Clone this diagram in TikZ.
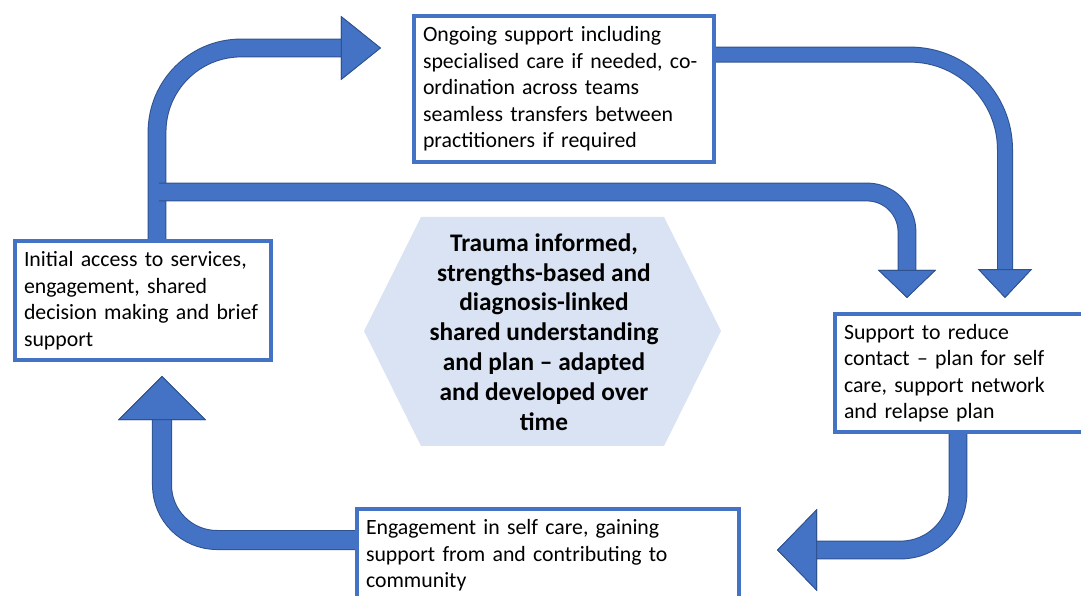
\documentclass[tikz,border=0pt]{standalone}
\usepackage{fontspec}
\setmainfont{Carlito}
\usetikzlibrary{arrows.meta,backgrounds}

\definecolor{flowblue}{HTML}{4472C4}
\definecolor{flowedge}{HTML}{2F528F}
\definecolor{corefill}{HTML}{DAE3F3}

\tikzset{
  stagebox/.style={draw=flowblue, line width=0.1cm, fill=white, anchor=north west,
    inner xsep=0.225cm, inner ysep=0pt, align=left,
    font=\fontsize{15.5}{18.85}\selectfont},
  flow/.style={draw=flowblue, line width=#1,
    preaction={draw=flowedge, line width=#1+0.05cm}},
  head/.style 2 args={-{Triangle[width=#1, length=#2, line width'=0.6pt,
    fill=flowblue, color=flowedge]}}
}

\begin{document}
\begin{tikzpicture}[x=0.025cm, y=-0.025cm]
\useasboundingbox (0,0) rectangle (1081,596);

% the four stages
\node[stagebox, text width=7.05cm, minimum height=3.65cm] (ongoing) at (412,14)
  {Ongoing support including\\specialised care if needed, co-\\ordination across teams\\seamless transfers between\\practitioners if required};
\node[stagebox, text width=5.95cm, minimum height=2.975cm] (init) at (13,239)
  {Initial access to services,\\engagement, shared\\decision making and brief\\support};
\node[stagebox, text width=6.1cm, minimum height=2.95cm] (support) at (833,312)
  {Support to reduce\\contact – plan for self\\care, support network\\and relapse plan};
\node[stagebox, text width=9.1cm, minimum height=2.325cm] (engage) at (355,507)
  {Engagement in self care, gaining\\support from and contributing to\\community};

% centre hexagon
\fill[corefill] (364,331) -- (421,217) -- (664,217) -- (721,331) -- (664,446) -- (421,446) -- cycle;
\node[align=center, font=\fontsize{18}{21.2}\selectfont\bfseries] (core) at (544,332)
  {Trauma informed,\\strengths-based and\\diagnosis-linked\\shared understanding\\and plan – adapted\\and developed over\\time};

% block arrows behind the boxes
\begin{scope}[on background layer]
\coordinate (aTip) at (381,48);
\coordinate (bStart) at (159,192);
\coordinate (bTip) at (907,298);
\coordinate (cTip) at (1005,298);
\coordinate (dTip) at (777,550);
\coordinate (eTip) at (162,376);

\draw[flow=0.42cm, head={1.6cm}{1cm}, rounded corners=2.1cm]
  ([xshift=0.35cm]init.north) |- (aTip);
\draw[flow=0.42cm, head={1.45cm}{0.7cm}, rounded corners=1cm]
  (bStart) -| (bTip);
\draw[flow=0.35cm, head={1.35cm}{0.72cm}, rounded corners=2.375cm]
  ([yshift=0.86cm]ongoing.east) -| (cTip);
\draw[flow=0.42cm, head={2.05cm}{1cm}, rounded corners=1.43cm]
  ([xshift=3.125cm]support.south west) |- (dTip);
\draw[flow=0.45cm, head={2.2cm}{1.1cm}, rounded corners=1.375cm]
  ([yshift=-0.825cm]engage.north west) -| (eTip);
\end{scope}
\end{tikzpicture}
\end{document}
